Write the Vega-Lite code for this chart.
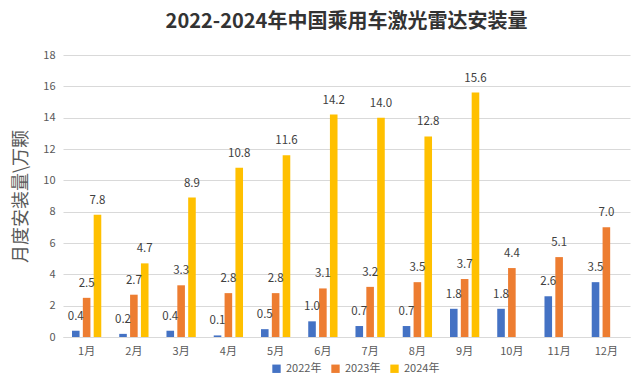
{
  "$schema": "https://vega.github.io/schema/vega-lite/v6.json",
  "width": 567,
  "height": 282,
  "autosize": {"type": "none"},
  "padding": {"left": 63, "top": 55, "right": 10, "bottom": 53},
  "background": "#ffffff",
  "title": {
    "text": "2022-2024年中国乘用车激光雷达安装量",
    "font": "Noto Sans CJK SC",
    "fontSize": 20,
    "fontWeight": "bold",
    "color": "#333333",
    "anchor": "middle",
    "offset": 17
  },
  "config": {
    "view": {"stroke": null},
    "font": "Noto Sans CJK SC"
  },
  "data": {
    "values": [
      {"month": "1月", "year": "2022年", "value": 0.4},
      {"month": "2月", "year": "2022年", "value": 0.2},
      {"month": "3月", "year": "2022年", "value": 0.4},
      {"month": "4月", "year": "2022年", "value": 0.1},
      {"month": "5月", "year": "2022年", "value": 0.5},
      {"month": "6月", "year": "2022年", "value": 1.0},
      {"month": "7月", "year": "2022年", "value": 0.7},
      {"month": "8月", "year": "2022年", "value": 0.7},
      {"month": "9月", "year": "2022年", "value": 1.8},
      {"month": "10月", "year": "2022年", "value": 1.8},
      {"month": "11月", "year": "2022年", "value": 2.6},
      {"month": "12月", "year": "2022年", "value": 3.5},
      {"month": "1月", "year": "2023年", "value": 2.5},
      {"month": "2月", "year": "2023年", "value": 2.7},
      {"month": "3月", "year": "2023年", "value": 3.3},
      {"month": "4月", "year": "2023年", "value": 2.8},
      {"month": "5月", "year": "2023年", "value": 2.8},
      {"month": "6月", "year": "2023年", "value": 3.1},
      {"month": "7月", "year": "2023年", "value": 3.2},
      {"month": "8月", "year": "2023年", "value": 3.5},
      {"month": "9月", "year": "2023年", "value": 3.7},
      {"month": "10月", "year": "2023年", "value": 4.4},
      {"month": "11月", "year": "2023年", "value": 5.1},
      {"month": "12月", "year": "2023年", "value": 7.0},
      {"month": "1月", "year": "2024年", "value": 7.8},
      {"month": "2月", "year": "2024年", "value": 4.7},
      {"month": "3月", "year": "2024年", "value": 8.9},
      {"month": "4月", "year": "2024年", "value": 10.8},
      {"month": "5月", "year": "2024年", "value": 11.6},
      {"month": "6月", "year": "2024年", "value": 14.2},
      {"month": "7月", "year": "2024年", "value": 14.0},
      {"month": "8月", "year": "2024年", "value": 12.8},
      {"month": "9月", "year": "2024年", "value": 15.6}
    ]
  },
  "encoding": {
    "x": {
      "field": "month",
      "type": "nominal",
      "sort": ["1月","2月","3月","4月","5月","6月","7月","8月","9月","10月","11月","12月"],
      "scale": {"paddingInner": 0.38, "paddingOuter": 0.19},
      "axis": {
        "title": null,
        "labelAngle": 0,
        "labelFontSize": 11,
        "labelColor": "#595959",
        "labelPadding": 8,
        "ticks": false,
        "domainColor": "#d9d9d9",
        "labelFont": "Noto Sans CJK SC"
      }
    },
    "xOffset": {
      "field": "year",
      "type": "nominal",
      "scale": {"paddingInner": 0.3}
    },
    "y": {
      "field": "value",
      "type": "quantitative",
      "scale": {"domain": [0, 18], "nice": false},
      "axis": {
        "title": "月度安装量\\万颗",
        "titleFontSize": 18,
        "titleFontWeight": "normal",
        "titleColor": "#595959",
        "titlePadding": 12,
        "values": [0,2,4,6,8,10,12,14,16,18],
        "labelFontSize": 11,
        "labelColor": "#595959",
        "labelPadding": 8,
        "ticks": false,
        "domain": false,
        "gridColor": "#d9d9d9"
      }
    }
  },
  "layer": [
    {
      "mark": {"type": "bar"},
      "encoding": {
        "color": {
          "field": "year",
          "type": "nominal",
          "scale": {"domain": ["2022年","2023年","2024年"], "range": ["#4472C4","#ED7D31","#FFC000"]},
          "legend": {
            "title": null,
            "orient": "none",
            "legendX": 208,
            "legendY": 308,
            "direction": "horizontal",
            "symbolType": "square",
            "symbolSize": 70,
            "labelFontSize": 11,
            "labelColor": "#595959",
            "columnPadding": 8
          }
        }
      }
    },
    {
      "mark": {"type": "text", "baseline": "bottom", "dy": -9, "fontSize": 11.5, "color": "#404040"},
      "encoding": {
        "text": {"field": "value", "type": "quantitative", "format": ".1f"}
      }
    }
  ]
}
